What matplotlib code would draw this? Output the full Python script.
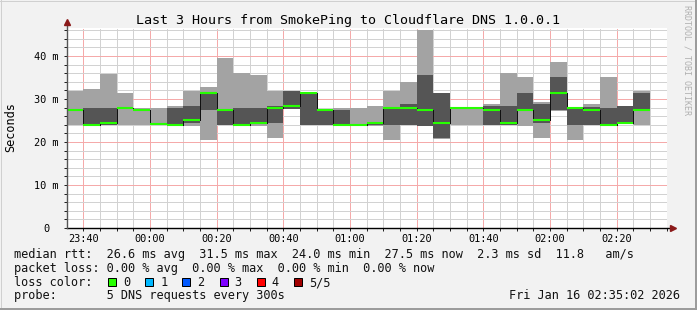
import numpy as np
import pandas as pd
import matplotlib
matplotlib.use('Agg')
import matplotlib.pyplot as plt
import matplotlib.dates as mdates
from matplotlib.ticker import MultipleLocator
from matplotlib.patches import Rectangle
from matplotlib.lines import Line2D

# one column per 5 minute step, 5 pings sorted low -> high (ms)
start = '2026-01-15 23:35'
p1 = [24.0, 24.0, 24.0, 24.0, 24.0, 24.0, 24.0, 23.6, 20.5, 24.0, 24.0, 23.6,
      21.0, 27.6, 24.0, 24.0, 24.0, 24.0, 23.6, 20.5, 24.0, 23.6, 20.6, 24.0,
      24.0, 24.0, 24.0, 23.6, 21.0, 27.2, 20.5, 24.0, 24.0, 24.2, 24.0]
p2 = [27.5, 24.0, 24.0, 27.9, 27.4, 24.1, 24.0, 24.5, 27.5, 24.0, 24.0, 24.3,
      24.5, 27.6, 24.0, 24.0, 24.0, 24.0, 24.0, 24.0, 24.0, 23.6, 21.0, 27.9,
      27.8, 24.0, 24.0, 27.5, 24.5, 27.5, 24.0, 24.0, 24.0, 24.2, 27.5]
median = [27.5, 24.0, 24.5, 27.9, 27.4, 24.1, 24.0, 25.0, 31.5, 27.5, 24.0, 24.5,
          28.0, 28.4, 31.5, 27.5, 24.0, 24.0, 24.5, 28.0, 28.0, 27.5, 24.4, 27.9,
          27.8, 27.5, 24.4, 27.5, 25.0, 31.5, 28.0, 27.5, 24.0, 24.5, 27.5]
p4 = [27.5, 28.0, 27.9, 27.9, 27.4, 24.1, 28.0, 28.4, 31.5, 27.5, 28.0, 28.0,
      28.3, 31.9, 31.5, 27.5, 27.5, 24.0, 24.5, 28.0, 28.8, 35.6, 31.4, 27.9,
      27.8, 28.4, 28.4, 31.4, 28.8, 35.1, 28.0, 28.1, 28.0, 28.4, 31.5]
p5 = [31.9, 32.3, 35.7, 31.5, 27.8, 28.0, 28.4, 31.9, 32.8, 39.5, 36.0, 35.6,
      31.9, 31.9, 31.5, 27.5, 28.0, 28.0, 28.4, 31.9, 34.0, 46.0, 31.4, 28.1,
      28.1, 28.8, 36.0, 35.1, 29.3, 38.6, 28.0, 28.8, 35.1, 28.4, 31.9]

title = 'Last 3 Hours from SmokePing to Cloudflare DNS 1.0.0.1'
ytick_vals = [0, 10, 20, 30, 40]
ytick_labels = ['0', '10 m', '20 m', '30 m', '40 m']
loss_labels = ['0', '1', '2', '3', '4', '5/5']
loss_colors = ['#26ff00', '#00b8ff', '#0059ff', '#7e00ff', '#ff0000', '#a10000']
legend_lines = [
    'median rtt:  26.6 ms avg  31.5 ms max  24.0 ms min  27.5 ms now  2.3 ms sd  11.8   am/s',
    'packet loss: 0.00 % avg  0.00 % max  0.00 % min  0.00 % now',
    'loss color:',
    'probe:       5 DNS requests every 300s',
]
stamp = 'Fri Jan 16 02:35:02 2026'

W, H = 697, 310
plt.rcParams['font.family'] = 'DejaVu Sans Mono'


def fx(px):
    return px / W


def fy(py):
    return 1 - py / H


fig = plt.figure(figsize=(W / 100, H / 100), dpi=100, facecolor='#f2f2f2')
ax = fig.add_axes([fx(66.7), fy(228), 600 / W, 200 / H])
ax.set_facecolor('white')

t = pd.date_range(start, periods=len(median), freq='5min')
x = mdates.date2num(t.to_pydatetime())
step = 5 / 1440

# smoke: outer pings light, inner pings dark
ax.bar(x, np.subtract(p5, p1), width=step, bottom=p1, align='edge',
       color='#a3a3a3', lw=0, zorder=2)
ax.bar(x, np.subtract(p4, p2), width=step, bottom=p2, align='edge',
       color='#555555', lw=0, zorder=3)
# median: green steps, dotted dark risers
ax.vlines(x[1:], median[:-1], median[1:], colors='#111111', linestyles=(0, (1, 1)),
          lw=0.72, zorder=4, antialiased=False)
ax.hlines(median, x, x + step, colors='#26ff00', lw=1.5, zorder=5)

t0 = pd.Timestamp('2026-01-15 23:35:02')
ax.set_xlim(mdates.date2num(t0), mdates.date2num(t0 + pd.Timedelta(hours=3)))
ax.set_ylim(0, 46.5)

ax.xaxis.set_major_locator(mdates.MinuteLocator(byminute=[0, 20, 40]))
ax.xaxis.set_minor_locator(mdates.MinuteLocator(byminute=range(0, 60, 5)))
ax.xaxis.set_major_formatter(mdates.DateFormatter('%H:%M'))
ax.yaxis.set_major_locator(MultipleLocator(10))
ax.yaxis.set_minor_locator(MultipleLocator(2))
ax.set_yticks(ytick_vals)
ax.set_yticklabels(ytick_labels, ha='center')

ax.set_axisbelow(True)
ax.grid(which='minor', color='#d2d2d2', ls=(0, (1, 1)), lw=0.72, antialiased=False)
ax.grid(which='major', color='#f5aaaa', ls=(0, (1, 1)), lw=0.72, antialiased=False)

for s in ax.spines.values():
    s.set_visible(False)
ax.tick_params(which='both', direction='out', length=2, width=0.72, color='#222222')
ax.tick_params(axis='y', which='major', pad=12.6, labelsize=7.4)
ax.tick_params(axis='x', which='major', pad=2.5, labelsize=7.4)

# axis lines with arrows
ax.plot([0, 1.0105], [0, 0], transform=ax.transAxes, clip_on=False,
        color='black', lw=1, zorder=6)
ax.plot([0, 0], [0, 1.03], transform=ax.transAxes, clip_on=False,
        color='#555555', lw=1, zorder=6)
ax.plot([1.0105], [0], marker='>', ms=4, color='#8b1a1a', transform=ax.transAxes,
        clip_on=False, zorder=7)
ax.plot([0], [1.03], marker='^', ms=4, color='#8b1a1a', transform=ax.transAxes,
        clip_on=False, zorder=7)

fig.text(fx(347.5), fy(24), title, ha='center', va='baseline', fontsize=9.6)
fig.text(fx(11), fy(127), 'Seconds', rotation=90, ha='center', va='center', fontsize=8.55)
fig.text(fx(686.5), fy(5), 'RRDTOOL / TOBI OETIKER', rotation=270, ha='center',
         va='top', fontsize=6, color='#b0b0b0')

rows = [258.3, 272.0, 286.0, 299.3]
for line, ry in zip(legend_lines, rows):
    fig.text(fx(14.5), fy(ry), line, ha='left', va='baseline', fontsize=8.55, color='#111111')
fig.text(fx(680), fy(rows[3]), stamp, ha='right', va='baseline', fontsize=8.55, color='#111111')

for i, (lab, col) in enumerate(zip(loss_labels, loss_colors)):
    lx = 108.3 + i * 37.08
    fig.add_artist(Rectangle((fx(lx), fy(286)), 8 / W, 8 / H, transform=fig.transFigure,
                             facecolor=col, edgecolor='black', lw=0.72))
    fig.text(fx(lx + 15), fy(286), lab, ha='left', va='baseline', fontsize=8.55, color='#111111')

# 3d-ish frame
fig.add_artist(Line2D([0, 1], [fy(0.5), fy(0.5)], transform=fig.transFigure, color='#d0d0d0', lw=0.72))
fig.add_artist(Line2D([fx(0.5), fx(0.5)], [0, 1], transform=fig.transFigure, color='#d0d0d0', lw=0.72))
fig.add_artist(Line2D([0, 1], [fy(309), fy(309)], transform=fig.transFigure, color='#9c9c9c', lw=1.44))
fig.add_artist(Line2D([fx(696), fx(696)], [0, 1], transform=fig.transFigure, color='#9c9c9c', lw=1.44))

fig.savefig('out.png', dpi=100, facecolor=fig.get_facecolor())
